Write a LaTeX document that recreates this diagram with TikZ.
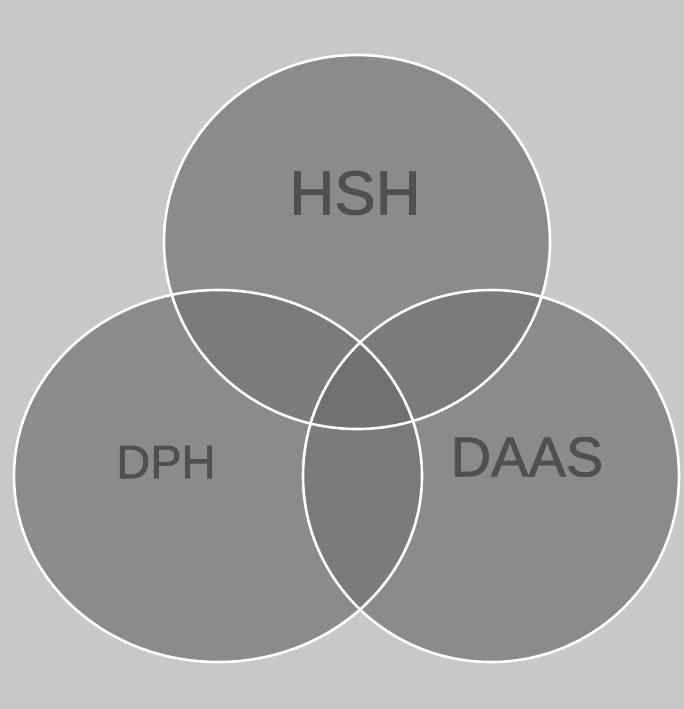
\documentclass[tikz,border=0pt]{standalone}
\usepackage{fontspec}
\setmainfont{Liberation Sans}
\newfontfamily\namefont[FakeBold=1.4]{Liberation Sans}
\usepackage{xcolor}
\definecolor{paper}{HTML}{C8C8C8}
\definecolor{disc}{HTML}{8B8B8B}
\definecolor{pair}{HTML}{7B7B7B}
\definecolor{core}{HTML}{717171}
\definecolor{ink}{HTML}{505050}

\tikzset{
  ring/.style={white, line width=2.6pt},
  setname/.style={text=ink, inner sep=0pt}
}

\begin{document}
\begin{tikzpicture}[x=1pt, y=-1pt]
        \fill[paper] (0,0) rectangle (684,709);
        \useasboundingbox (0,0) rectangle (684,709);
        % the three sets
        \fill[disc] (357,242) ellipse (193 and 187);
        \fill[disc] (218,476) ellipse (204 and 186);
        \fill[disc] (491,476) ellipse (188 and 186);
        % overlaps of two
        \begin{scope}
          \clip (357,242) ellipse (193 and 187);
          \fill[pair] (218,476) ellipse (204 and 186);
          \fill[pair] (491,476) ellipse (188 and 186);
        \end{scope}
        \begin{scope}
          \clip (218,476) ellipse (204 and 186);
          \fill[pair] (491,476) ellipse (188 and 186);
        \end{scope}
        % overlap of all three
        \begin{scope}
          \clip (357,242) ellipse (193 and 187);
          \clip (218,476) ellipse (204 and 186);
          \fill[core] (491,476) ellipse (188 and 186);
        \end{scope}
        \draw[ring] (357,242) ellipse (193 and 187);
        \draw[ring] (218,476) ellipse (204 and 186);
        \draw[ring] (491,476) ellipse (188 and 186);
        \node[setname, font=\namefont\fontsize{62}{62}\selectfont] (hsh) at (355,193) {HSH};
        \node[setname, font=\namefont\fontsize{47}{47}\selectfont] (dph) at (166,462) {DPH};
        \node[setname, font=\namefont\fontsize{56}{56}\selectfont] (daas) at (527,457) {DAAS};
    \end{tikzpicture}
\end{document}
